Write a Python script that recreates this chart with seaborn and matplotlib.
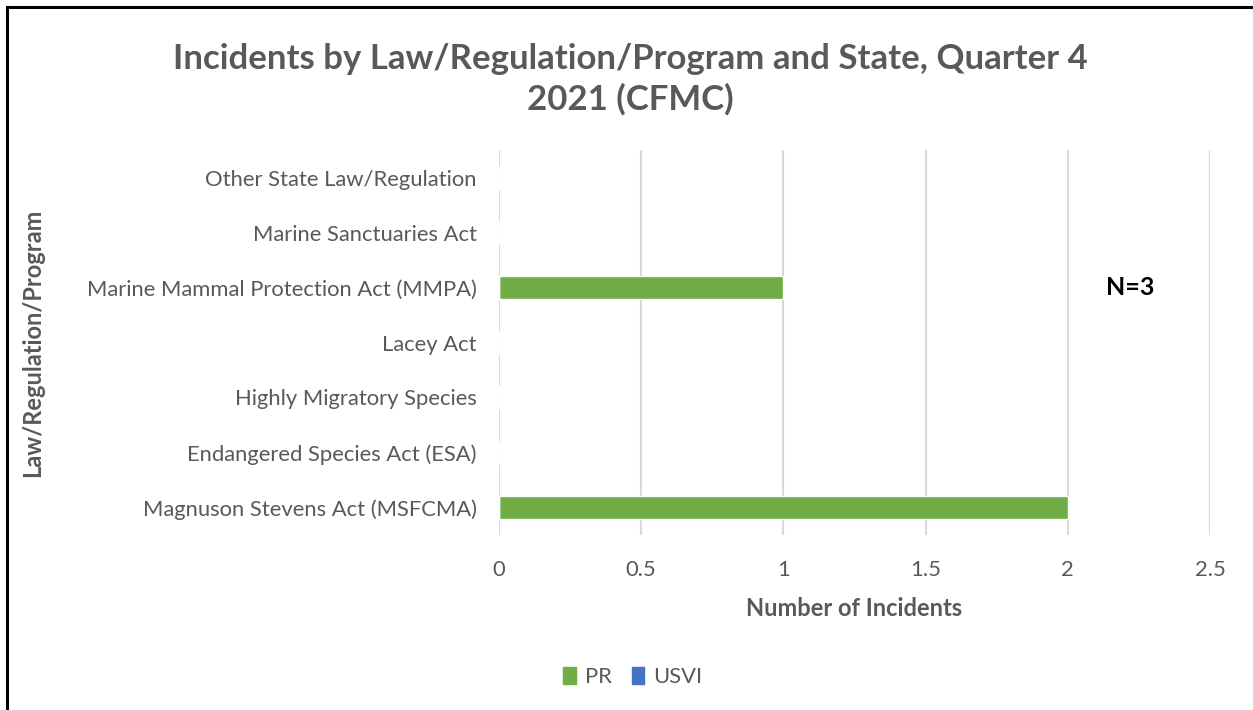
import pandas as pd
import matplotlib.pyplot as plt
import seaborn as sns
from matplotlib.patches import Rectangle

categories = ['Other State Law/Regulation', 'Marine Sanctuaries Act',
              'Marine Mammal Protection Act (MMPA)', 'Lacey Act',
              'Highly Migratory Species', 'Endangered Species Act (ESA)',
              'Magnuson Stevens Act (MSFCMA)']
pr_counts = [0, 0, 1, 0, 0, 0, 2]
usvi_counts = [0, 0, 0, 0, 0, 0, 0]
states = ['PR', 'USVI']
colors = {'PR': '#70AD47', 'USVI': '#4472C4'}

df = pd.DataFrame({
    'law': categories * 2,
    'count': pr_counts + usvi_counts,
    'state': ['PR'] * len(categories) + ['USVI'] * len(categories),
})

sns.set_style('white')
plt.rcParams['font.family'] = ['Lato', 'DejaVu Sans']
gray = '#595959'

fig = plt.figure(figsize=(12.53, 7.10), dpi=100)
ax = fig.add_axes([0.3982, 0.2465, 0.5675, 0.5422])

sns.barplot(data=df, y='law', x='count', hue='state', order=categories,
            hue_order=states, palette=colors, dodge=False, width=0.42,
            saturation=1, orient='h', ax=ax, legend=False)

ax.set_xlim(0, 2.5)
ax.set_xticks([0, 0.5, 1, 1.5, 2, 2.5])
ax.set_xticklabels(['0', '0.5', '1', '1.5', '2', '2.5'])
ax.grid(axis='x', color='#D9D9D9', linewidth=1.5)
ax.set_axisbelow(True)
for s in ax.spines.values():
    s.set_visible(False)
ax.tick_params(axis='both', length=0, labelsize=15.8, labelcolor=gray)
ax.tick_params(axis='x', pad=18)
ax.tick_params(axis='y', pad=16)

ax.set_xlabel('Number of Incidents', fontsize=17, fontweight='bold', color=gray, labelpad=12)
ax.set_ylabel('')
fig.text(0.026, 0.517, 'Law/Regulation/Program', rotation=90, ha='center', va='center',
         fontsize=17, fontweight='bold', color=gray)

fig.text(0.503, 0.888, 'Incidents by Law/Regulation/Program and State, Quarter 4\n2021 (CFMC)',
         ha='center', va='center', fontsize=25, fontweight='bold', color=gray, linespacing=1.3)

ax.text(2.22, categories.index('Marine Mammal Protection Act (MMPA)'), 'N=3',
        ha='center', va='center', fontsize=18, fontweight='bold', color='black')

handles = [Rectangle((0, 0), 1, 1, color=colors[s]) for s in states]
fig.legend(handles, states, loc='center', bbox_to_anchor=(0.505, 0.046), ncol=2,
           frameon=False, fontsize=15.8, handlelength=0.58, handleheight=0.8,
           handletextpad=0.4, columnspacing=0.9, labelcolor=gray)

fig.patches.append(Rectangle((7 / 1253, -0.05), 1.1, 1.05 - 7 / 710,
                             transform=fig.transFigure, fill=False,
                             edgecolor='black', linewidth=2.2))

fig.savefig('out.png', dpi=100)
